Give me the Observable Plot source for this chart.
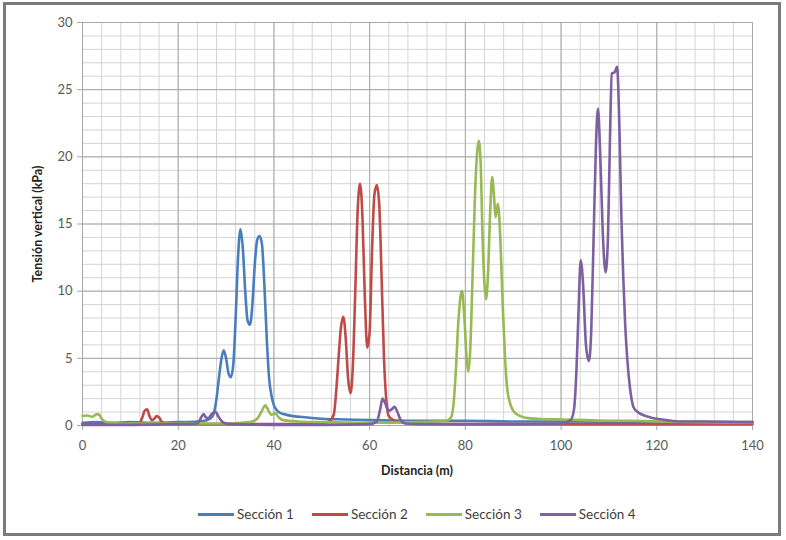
<!DOCTYPE html>
<html><head><meta charset="utf-8">
<script src="https://cdn.jsdelivr.net/npm/d3@7"></script>
<script src="https://cdn.jsdelivr.net/npm/@observablehq/plot@0.6"></script>
<style>
body{margin:0;background:#fff;font-family:Lato,"Open Sans",sans-serif;}
#wrap{position:relative;width:786px;height:540px;overflow:hidden;background:#fff;}
#frame{position:absolute;left:3px;top:2px;width:778px;height:534px;box-sizing:border-box;border:3px solid #7b7b7b;pointer-events:none;}
#chart{position:absolute;left:0;top:0;}
#ylab{position:absolute;left:37px;top:224px;transform:translate(-50%,-50%) rotate(-90deg);font-weight:bold;font-size:12.5px;color:#222;white-space:nowrap;}
#xlab{position:absolute;left:417px;top:470px;transform:translate(-50%,-50%);font-weight:bold;font-size:12.5px;color:#222;white-space:nowrap;}
#legend{position:absolute;top:506px;left:198px;display:flex;gap:18px;font-size:13.5px;color:#404040;}
#legend .it{display:flex;align-items:center;}
#legend .sw{width:36px;height:3px;margin-right:3px;}
</style></head>
<body>
<div id="wrap">
<div id="chart"></div>
<div id="ylab">Tensión vertical (kPa)</div>
<div id="xlab">Distancia (m)</div>
<div id="legend"></div>
<div id="frame"></div>
</div>
<script>
// ---- data ----
const seriesNames = ["Sección 1", "Sección 2", "Sección 3", "Sección 4"];
const seriesColors = ["#4A7EBB", "#BE4B48", "#98B954", "#7D60A0"];
const xTicks = [0, 20, 40, 60, 80, 100, 120, 140];
const yTicks = [0, 5, 10, 15, 20, 25, 30];

const dist1 = [0,3,6,10,15,20,24,26,27,27.5,28,28.5,29,29.5,30,30.5,31,31.5,32,32.5,33,33.5,34,34.5,35,35.5,36,36.5,37,37.5,38,38.5,39,39.5,40,40.5,41,42,44,47,50,55,60,70,80,90,100,120,140];
const tens1 = [0.2,0.25,0.2,0.25,0.2,0.25,0.3,0.4,0.6,1.0,2.0,3.5,4.9,5.6,5.0,3.9,3.6,4.5,8,12.5,14.6,13.2,10,7.8,7.5,9,12,13.8,14.1,13.5,10.5,6.5,3.5,2.2,1.5,1.2,1.0,0.85,0.7,0.6,0.5,0.45,0.4,0.35,0.35,0.3,0.3,0.25,0.25];

const dist2 = [0,5,10,12,12.5,13,13.5,14,14.5,15,15.5,16,16.5,17.5,20,30,40,50,51.5,52.5,53,53.5,54,54.5,55,55.5,56,56.5,57,57.5,58,58.5,59,59.5,60,60.5,61,61.5,62,62.5,63,63.5,64,65,67,70,80,100,120,140];
const tens2 = [0.1,0.1,0.1,0.2,0.6,1.1,1.2,0.7,0.4,0.5,0.7,0.6,0.3,0.15,0.1,0.1,0.1,0.15,0.3,0.8,2.5,5,7.3,8.1,6.5,3.5,2.4,4.5,10,16,18,15.5,9.5,5.8,7,13,17.2,17.9,16.5,11,5,1.8,0.7,0.4,0.2,0.15,0.1,0.1,0.1,0.1];

const dist3 = [0,1,2,3,3.5,4,5,8,12,20,30,35,36.5,37.5,38.2,39,39.5,40.3,41,42,45,50,60,70,76,77,77.5,78,78.5,79,79.3,79.8,80.3,80.6,81,81.5,82,82.5,82.8,83.2,83.6,84,84.3,84.7,85.2,85.6,86,86.3,86.8,87.3,87.8,88.3,88.7,89.3,90,90.5,91.5,93,95,100,105,110,115,120,130,140];
const tens3 = [0.7,0.75,0.65,0.85,0.8,0.5,0.25,0.15,0.15,0.15,0.15,0.25,0.5,1.1,1.5,1.0,0.8,0.9,0.6,0.4,0.3,0.25,0.2,0.25,0.35,0.6,1.5,4,7.5,9.6,10,8,4.8,4.0,5.5,11,17,20.5,21.2,19.5,14,10.5,9.4,11,16,18.5,17,15.5,16.5,14,9,5,2.9,1.7,1.1,0.9,0.7,0.55,0.5,0.45,0.4,0.35,0.35,0.3,0.25,0.2];

const dist4 = [0,10,20,24,24.8,25.3,25.8,26.3,27,27.8,28.5,29.5,31,40,50,60,61.5,62.2,62.7,63.2,64,64.6,65.2,65.8,66.5,67.5,70,80,90,100,102,102.7,103.2,103.6,104.1,104.6,105.2,105.8,106.3,106.8,107.3,107.7,108.2,108.7,109.3,109.8,110.2,110.6,111.2,111.7,112.2,112.6,113,113.4,113.8,114.4,115.1,116,117,118.7,120,122,125,130,140];
const tens4 = [0.05,0.05,0.1,0.15,0.6,0.85,0.6,0.55,0.85,1.0,0.6,0.2,0.1,0.05,0.05,0.1,0.3,1.2,2.0,1.7,1.1,1.2,1.4,1.0,0.4,0.15,0.1,0.1,0.1,0.15,0.4,1.2,4,8,12.3,10.5,6,4.8,7,14,21,23.6,20,14.5,11.4,14,21,26.2,26.3,26.7,22,15.5,11,7.5,5.1,2.8,1.4,1.0,0.8,0.6,0.5,0.4,0.3,0.3,0.25];

// ---- build table ----
const dists = [dist1, dist2, dist3, dist4];
const tens = [tens1, tens2, tens3, tens4];
const rows = [];
seriesNames.forEach((name, i) => {
  dists[i].forEach((d, j) => rows.push({serie: name, x: d, y: tens[i][j]}));
});

const chart = Plot.plot({
  width: 786,
  height: 490,
  marginLeft: 82,
  marginRight: 34,
  marginTop: 22,
  marginBottom: 65,
  style: {fontFamily: "Lato, 'Open Sans', sans-serif", fontSize: "13px", background: "transparent"},
  x: {domain: [0, 140]},
  y: {domain: [0, 30]},
  color: {domain: seriesNames, range: seriesColors},
  marks: [
    Plot.gridX(d3.range(0, 141, 4), {stroke: "#d4d4d4", strokeOpacity: 1, strokeWidth: 1}),
    Plot.gridY(d3.range(0, 31, 1), {stroke: "#d4d4d4", strokeOpacity: 1, strokeWidth: 1}),
    Plot.gridX(xTicks, {stroke: "#a8a8a8", strokeOpacity: 1, strokeWidth: 1}),
    Plot.gridY(yTicks, {stroke: "#a8a8a8", strokeOpacity: 1, strokeWidth: 1}),
    Plot.axisX(xTicks, {tickSize: 5, tickPadding: 10, stroke: "#a8a8a8", color: "#595959", label: null, fontSize: 13}),
    Plot.axisY(yTicks, {tickSize: 5, tickPadding: 5, stroke: "#a8a8a8", color: "#595959", label: null, fontSize: 13}),
    Plot.line(rows, {x: "x", y: "y", z: "serie", stroke: "serie", strokeWidth: 2.6, curve: "monotone-x"})
  ]
});
document.getElementById("chart").appendChild(chart);

const leg = document.getElementById("legend");
seriesNames.forEach((n, i) => {
  const it = document.createElement("div");
  it.className = "it";
  const sw = document.createElement("div");
  sw.className = "sw";
  sw.style.background = seriesColors[i];
  const t = document.createElement("span");
  t.textContent = n;
  it.appendChild(sw); it.appendChild(t);
  leg.appendChild(it);
});
</script>
</body></html>
